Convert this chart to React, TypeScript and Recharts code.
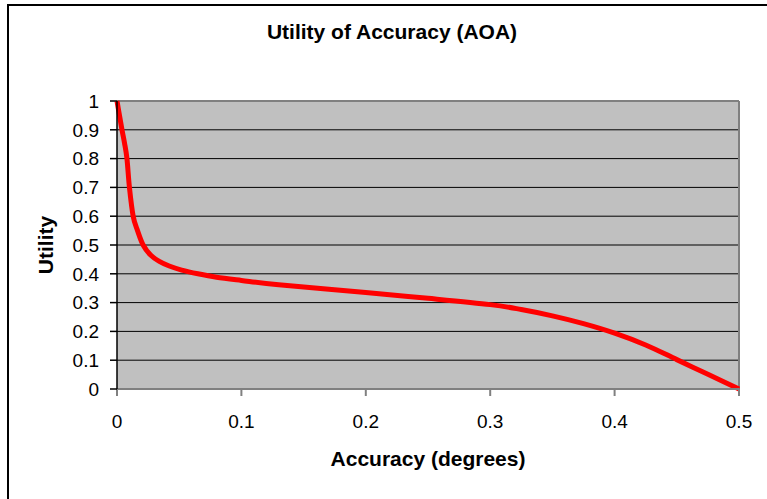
import React from 'react';
import { LineChart, Line, XAxis, YAxis, CartesianGrid, ReferenceLine } from 'recharts';

// accuracy in degrees
const accuracy = [
  0, 0.002, 0.004, 0.006, 0.008, 0.01, 0.013, 0.0165, 0.021, 0.027, 0.034, 0.042, 0.052, 0.065, 0.08, 0.1,
  0.13, 0.2, 0.25, 0.3, 0.325, 0.35, 0.375, 0.4, 0.425, 0.45, 0.475, 0.5,
];
const utility = [
  1, 0.95, 0.9, 0.855, 0.8, 0.7, 0.6, 0.55, 0.5, 0.465, 0.443, 0.427, 0.413, 0.4, 0.388, 0.377,
  0.362, 0.335, 0.315, 0.293, 0.276, 0.254, 0.227, 0.194, 0.153, 0.102, 0.051, 0,
];
const xTicks = [0, 0.1, 0.2, 0.3, 0.4, 0.5];
const yTicks = [0, 0.1, 0.2, 0.3, 0.4, 0.5, 0.6, 0.7, 0.8, 0.9, 1];

const data = accuracy.map((x, i) => ({ x, y: utility[i] }));

const FONT = '"Liberation Sans", Arial, sans-serif';
const labelStyle = { fontWeight: 'bold', fontSize: 21, fill: '#000', fontFamily: FONT };

// Excel-style smoothed line: cubic bezier segments with Catmull-Rom tangents
function smoothLine(context: any) {
  let pts: number[][] = [];
  return {
    areaStart() {},
    areaEnd() {},
    lineStart() {
      pts = [];
    },
    point(x: number, y: number) {
      pts.push([+x, +y]);
    },
    lineEnd() {
      if (!pts.length) return;
      context.moveTo(pts[0][0], pts[0][1]);
      for (let i = 0; i < pts.length - 1; i++) {
        const p0 = pts[i - 1] || pts[i];
        const p1 = pts[i];
        const p2 = pts[i + 1];
        const p3 = pts[i + 2] || p2;
        context.bezierCurveTo(
          p1[0] + (p2[0] - p0[0]) / 6,
          p1[1] + (p2[1] - p0[1]) / 6,
          p2[0] - (p3[0] - p1[0]) / 6,
          p2[1] - (p3[1] - p1[1]) / 6,
          p2[0],
          p2[1],
        );
      }
    },
  };
}

const XTick = ({ x, y, payload }: any) => (
  <text x={x} y={y} dy="0.71em" textAnchor="middle" fontSize={19} fontFamily={FONT} fill="#000">
    {payload.value}
  </text>
);

const YTick = ({ x, y, payload }: any) => (
  <text x={x} y={y} dy="0.36em" textAnchor="end" fontSize={19} fontFamily={FONT} fill="#000">
    {payload.value}
  </text>
);

export default function App() {
  return (
    <div style={{ position: 'absolute', left: 0, top: 0, width: 767, height: 499, background: '#fff', fontFamily: FONT }}>
      <div
        style={{
          position: 'absolute',
          left: 7,
          top: 4,
          right: -10,
          bottom: -10,
          borderLeft: '2px solid #000',
          borderTop: '2px solid #000',
        }}
      />
      <div
        style={{
          position: 'absolute',
          top: 20,
          left: 0,
          width: 784,
          textAlign: 'center',
          fontWeight: 'bold',
          fontSize: 21,
        }}
      >
        Utility of Accuracy (AOA)
      </div>
      <LineChart
        width={767}
        height={499}
        data={data}
        margin={{ top: 101, right: 28, left: 42, bottom: 30 }}
        style={{ position: 'absolute', left: 0, top: 0 }}
      >
        <CartesianGrid fill="#C0C0C0" vertical={false} stroke="#000" strokeOpacity={1} />
        <XAxis
          dataKey="x"
          type="number"
          domain={[0, 0.5]}
          ticks={xTicks}
          height={80}
          tickSize={7}
          tickMargin={19}
          stroke="#808080"
          strokeWidth={2}
          tickLine={{ stroke: '#808080', strokeWidth: 2 }}
          tick={<XTick />}
          label={{ value: 'Accuracy (degrees)', position: 'insideBottom', offset: 3, style: labelStyle }}
        />
        <YAxis
          type="number"
          domain={[0, 1]}
          ticks={yTicks}
          width={75}
          tickSize={7}
          tickMargin={11}
          stroke="#000"
          strokeWidth={1.5}
          tickLine={{ stroke: '#000', strokeWidth: 1.5 }}
          tick={<YTick />}
          label={{
            value: 'Utility',
            angle: -90,
            position: 'insideLeft',
            offset: 4,
            style: { ...labelStyle, textAnchor: 'middle' },
          }}
        />
        <ReferenceLine y={1} stroke="#808080" strokeWidth={2} />
        <ReferenceLine x={0.5} stroke="#808080" strokeWidth={2} />
        <Line
          type={smoothLine as any}
          dataKey="y"
          stroke="#FF0000"
          strokeWidth={5}
          dot={false}
          isAnimationActive={false}
        />
      </LineChart>
    </div>
  );
}
